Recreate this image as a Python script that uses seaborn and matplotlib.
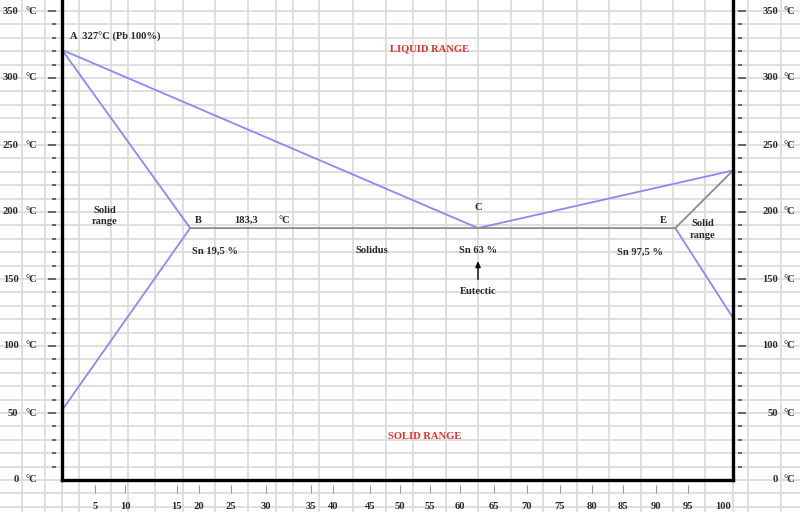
import numpy as np
import pandas as pd
import seaborn as sns
import matplotlib.pyplot as plt
from matplotlib.transforms import blended_transform_factory

# values (composition in % Sn, temperature in degC)
liquidus_x = [0, 62.0, 100]
liquidus_t = [321, 188, 231]
left_x = [0, 19.1, 0]
left_t = [321, 188, 52]
right_x = [100, 91.4]
right_t = [121, 188]
solidus_x = [19.1, 91.4, 100]
solidus_t = [188, 188, 231]

y_major = list(range(50, 351, 50))
y_labels = list(range(0, 351, 50))
x_labels = ["5", "10", "15", "20", "25", "30", "35", "40", "45", "50",
            "55", "60", "65", "70", "75", "80", "85", "90", "95", "100"]
x_label_pos = [4.9, 9.4, 17.1, 20.4, 25.2, 30.4, 37.1, 40.4, 45.9, 50.4,
               54.8, 59.3, 64.4, 69.3, 74.2, 79.0, 83.6, 88.5, 93.3, 98.5]

# spreadsheet column borders (pixels)
columns = [22, 45, 62, 79, 111, 128, 155, 183, 215, 248, 276, 293, 319, 353,
           386, 413, 446, 478, 511, 543, 577, 609, 641, 673, 705, 733, 748, 781]

sns.set_style("white")
plt.rcParams['font.family'] = ['Liberation Serif', 'DejaVu Serif']
plt.rcParams['font.weight'] = 'bold'
fs = 7.6
txt_col = '#2a2a2a'
blue = '#8a8af0'
grey = '#8c8c8c'

W, H = 800, 512
fig = plt.figure(figsize=(8, 5.12), dpi=100)

y_top = 480 / 1.34
y_bot = (480 - 512) / 1.34

# background grid (spreadsheet look)
bg = fig.add_axes([0, 0, 1, 1], zorder=0)
bg.set_xlim(0, W)
bg.set_ylim(y_bot, y_top)
bg.axis('off')
bg.hlines(np.arange(-20, 360, 10), 0, W, color='#dcdcdc', lw=1.3)
bg.vlines(columns, y_bot, y_top, color='#dcdcdc', lw=1.3)

ax = fig.add_axes([62 / W, 32 / H, (733 - 62) / W, 480 / H], zorder=1)
ax.patch.set_visible(False)
ax.set_xlim(0, 100)
ax.set_ylim(0, y_top)

kw = dict(estimator=None, sort=False, lw=1.3, ax=ax, legend=False)
sns.lineplot(x=liquidus_x, y=liquidus_t, color=blue, **kw)
sns.lineplot(x=left_x, y=left_t, color=blue, **kw)
sns.lineplot(x=right_x, y=right_t, color=blue, **kw)
sns.lineplot(x=solidus_x, y=solidus_t, color=grey, **kw)

for s in ['left', 'right', 'bottom']:
    ax.spines[s].set_linewidth(2.4)
    ax.spines[s].set_color('black')
ax.spines['top'].set_visible(False)

# y dashes outside both spines
tr_y = blended_transform_factory(ax.transAxes, ax.transData)
y_minor = [v for v in range(10, 350, 10) if v % 50]
dash = dict(ls='none', marker='_', mew=1.1, color='#444444', transform=tr_y, clip_on=False)
ax.plot([-0.0142] * len(y_major), y_major, ms=5.5, **dash)
ax.plot([-0.0120] * len(y_minor), y_minor, ms=2.5, **dash)
ax.plot([1.0134] * len(y_major), y_major, ms=6, **dash)
ax.plot([1.0097] * len(y_minor), y_minor, ms=3, **dash)

# y labels on both sides
tr_fy = blended_transform_factory(fig.transFigure, ax.transData)
for v in y_labels:
    ax.text(18.5 / W, v, str(v), ha='right', va='center', fontsize=fs,
            color=txt_col, transform=tr_fy)
    ax.text(25 / W, v, "°C", ha='left', va='center', fontsize=fs,
            color=txt_col, transform=tr_fy)
    ax.text(778 / W, v, str(v), ha='right', va='center', fontsize=fs,
            color=txt_col, transform=tr_fy)
    ax.text(783 / W, v, "°C", ha='left', va='center', fontsize=fs,
            color=txt_col, transform=tr_fy)
ax.set_yticks([])

# x ticks
ax.set_xticks(x_label_pos)
ax.set_xticklabels(x_labels, fontsize=fs, color=txt_col, fontweight='bold')
ax.tick_params(axis='x', length=0, pad=16)
tr_x = blended_transform_factory(ax.transData, ax.transAxes)
ax.plot(x_label_pos[:-1], [-0.019] * (len(x_label_pos) - 1), ls='none', marker='|',
        ms=6, mew=0.8, color='#9a9a9a', transform=tr_x, clip_on=False)

# annotations
def note(x, y, s, ha='center', color=txt_col, **k):
    ax.text(x, y, s, ha=ha, va='center', fontsize=fs, color=color,
            fontweight='bold', **k)

note(1.2, 330.5, "A  327°C (Pb 100%)", ha='left')
note(54.8, 321.5, "LIQUID RANGE", color='#e8302a')
note(54.1, 32.8, "SOLID RANGE", color='#e8302a')
note(6.4, 197, "Solid\nrange", linespacing=1.35)
note(20.3, 194, "B")
note(27.4, 194, "183,3")
note(33.1, 194, "°C")
note(22.8, 171, "Sn 19,5 %")
note(46.2, 171, "Solidus")
note(62.0, 203, "C")
note(62.0, 171, "Sn 63 %")
note(62.0, 140.3, "Eutectic")
note(89.6, 193.3, "E")
note(95.5, 187, "Solid\nrange", linespacing=1.35)
note(86.1, 170, "Sn 97,5 %")
ax.annotate("", xy=(62.0, 165.5), xytext=(62.0, 147.5),
            arrowprops=dict(arrowstyle='-|>,head_length=0.35,head_width=0.15',
                            color='black', lw=1.0))

fig.savefig("out.png", dpi=100)
